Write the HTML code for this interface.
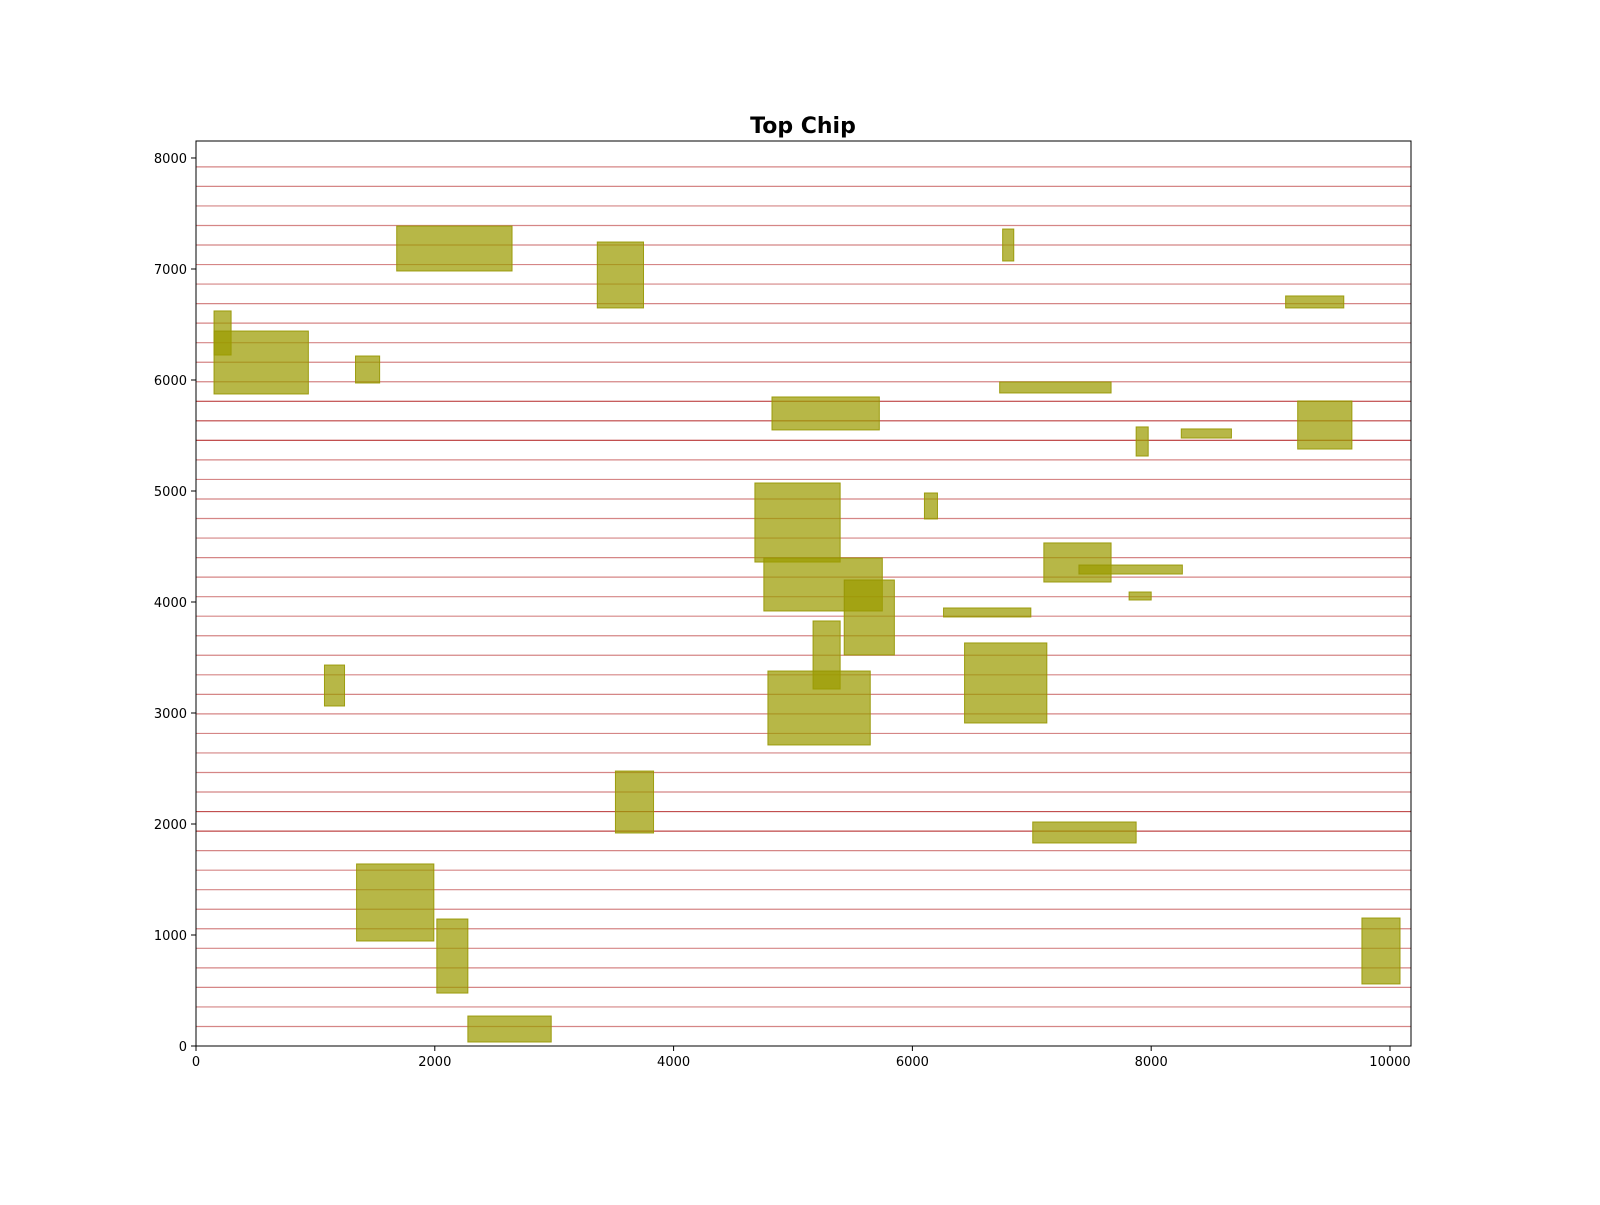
<!DOCTYPE html>
<html><head><meta charset="utf-8"><style>
body{margin:0;background:#fff;font-family:"Liberation Sans","DejaVu Sans",sans-serif}
svg text{font-family:"DejaVu Sans","Liberation Sans",sans-serif}
</style></head><body>
<svg id="chart" width="1600" height="1200" xmlns="http://www.w3.org/2000/svg">
<rect width="1600" height="1200" fill="#fff"/>
<text x="803" y="133" text-anchor="middle" font-size="22" font-weight="bold">Top Chip</text>
<g id="lines"></g><g id="rects"></g><g id="axes"></g>
</svg>
<script>
const rowHeight = 176;
const rowCount = 45;
const darkRows = [11, 12, 31, 32, 33];
const rectX0 = [151,151,1336,1681,3361,6756,9126,4824,6731,7874,8252,9227,4681,6101,7101,7395,4756,5429,7815,6261,5168,6437,4790,1076,3513,7008,1345,2017,2277,9765];
const rectX1 = [294,941,1538,2647,3748,6849,9613,5723,7664,7975,8672,9681,5395,6210,7664,8261,5748,5849,8000,6992,5395,7126,5647,1244,3832,7874,1992,2277,2975,10084];
const rectY0 = [6225,5874,5973,6982,6649,7072,6649,5550,5883,5315,5477,5378,4360,4748,4180,4252,3919,3523,4018,3865,3216,2910,2712,3063,1919,1829,946,477,36,559];
const rectY1 = [6622,6441,6216,7387,7243,7360,6757,5847,5982,5577,5559,5811,5072,4982,4532,4333,4396,4198,4090,3946,3829,3631,3378,3432,2477,2018,1640,1144,270,1153];
const xTicks = [0,2000,4000,6000,8000,10000];
const yTicks = [0,1000,2000,3000,4000,5000,6000,7000,8000];
const L=196,R=1411,T=141,B=1046,XMAX=10176,YMAX=8153;
const sx=v=>L+v/XMAX*(R-L), sy=v=>B-v/YMAX*(B-T);
const NS="http://www.w3.org/2000/svg";
function mk(tag,attrs,parent){const e=document.createElementNS(NS,tag);for(const k in attrs)e.setAttribute(k,attrs[k]);parent.appendChild(e);return e;}
const lg=document.getElementById('lines');
for(let k=1;k<=rowCount;k++){
  const y=sy(k*rowHeight);
  const reps=darkRows.includes(k)?2:1;
  for(let r=0;r<reps;r++){
    const ln=mk('line',{x1:L,x2:R,y1:y,y2:y,stroke:'#b22222','stroke-opacity':0.55,'stroke-width':1.2},lg);
    
    
  }
}
const rg=document.getElementById('rects');
for(let i=0;i<rectX0.length;i++){
  const x=sx(rectX0[i]),y=sy(rectY1[i]);
  const r=mk('rect',{x:x,y:y,width:sx(rectX1[i])-x,height:sy(rectY0[i])-y,fill:'rgba(155,155,0,0.72)',stroke:'rgba(150,150,0,0.9)','stroke-width':1},rg);
  
  
}
const ag=document.getElementById('axes');
const fr=mk('rect',{x:L,y:T,width:R-L,height:B-T,fill:'none',stroke:'#000','stroke-width':1},ag);


xTicks.forEach(v=>{const x=sx(v);
  mk('line',{x1:x,x2:x,y1:B,y2:B+5,stroke:'#000'},ag);
  const t=mk('text',{x:x,y:B+20,'text-anchor':'middle','font-size':13},ag);t.textContent=v;
  
  
});
yTicks.forEach(v=>{const y=sy(v);
  mk('line',{x1:L-5,x2:L,y1:y,y2:y,stroke:'#000'},ag);
  const t=mk('text',{x:L-9,y:y+5,'text-anchor':'end','font-size':13},ag);t.textContent=v;
  
  
});
</script>
</body></html>
